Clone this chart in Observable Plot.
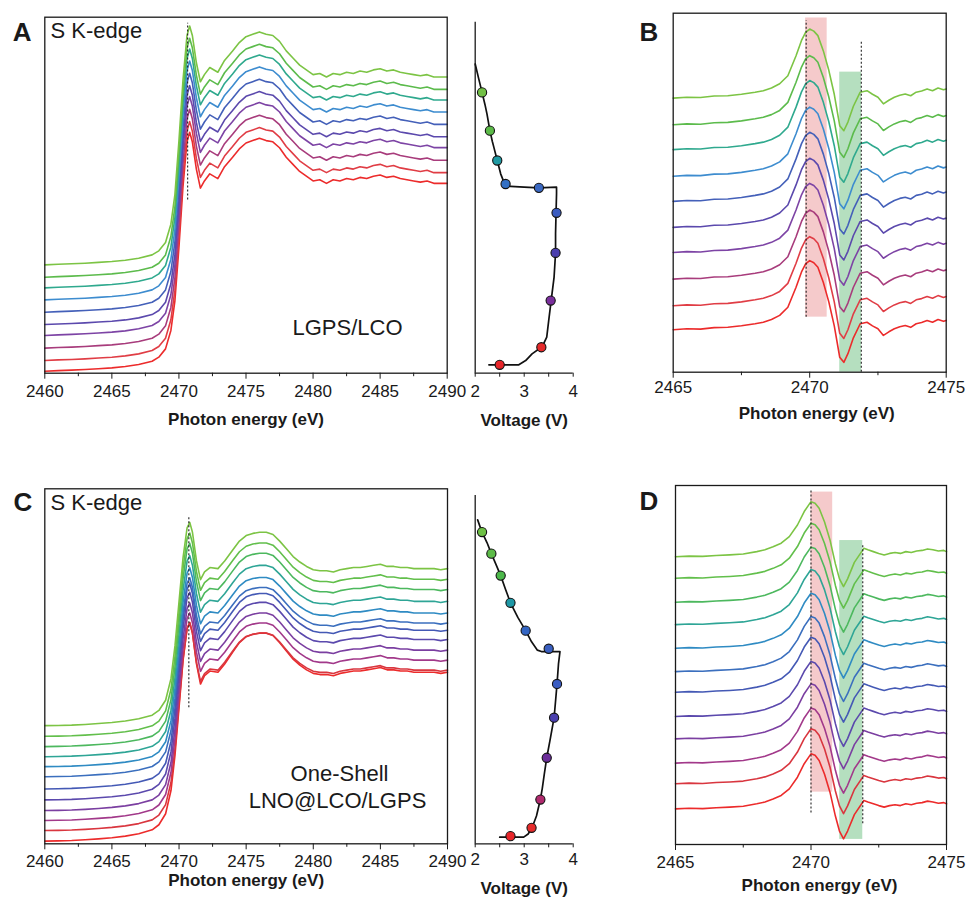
<!DOCTYPE html>
<html><head><meta charset="utf-8">
<script src="https://cdn.jsdelivr.net/npm/d3@7"></script>
<script src="https://cdn.jsdelivr.net/npm/@observablehq/plot@0.6"></script>
<style>
html,body{margin:0;padding:0;background:#fff;}
#fig{position:relative;width:968px;height:899px;overflow:hidden;background:#fff;font-family:"Liberation Sans",Arial,sans-serif;}
#fig > div{position:absolute;}
#fig svg{overflow:visible;background:none;}
</style></head><body><div id="fig"></div>
<script>
// ---------- DATA ----------
// S K-edge XANES energy grid (eV) for panels A and C
const energyK = [2460,2461,2462,2463,2464,2465,2466,2467,2468,2468.5,2469,2469.4,2469.7,2470,2470.3,2470.6,2470.8,2471,2471.3,2471.6,2471.9,2472.3,2472.9,2473.4,2474,2474.5,2475,2475.5,2476,2476.5,2477,2477.5,2478,2478.5,2479,2479.5,2480,2480.5,2481,2481.5,2482,2482.5,2483,2483.5,2484,2484.5,2485,2485.5,2486,2486.5,2487,2487.5,2488,2488.5,2489,2489.5,2490];
// Panel A: lowest (red) spectrum, normalized absorption
const muA = [0.017,0.022,0.026,0.031,0.038,0.045,0.056,0.073,0.101,0.135,0.205,0.36,0.61,1.06,1.57,1.95,2.03,1.95,1.72,1.56,1.62,1.68,1.64,1.74,1.82,1.89,1.94,1.96,1.98,1.96,1.95,1.90,1.82,1.76,1.70,1.66,1.62,1.63,1.60,1.63,1.62,1.64,1.63,1.65,1.64,1.66,1.67,1.65,1.66,1.64,1.63,1.62,1.61,1.62,1.60,1.60,1.60];
const offsetsA = [0.896,0.792,0.702,0.601,0.497,0.393,0.301,0.194,0.090,0];
const colorsA = ["#7cc444","#5cbb4c","#2fa98e","#3d8ccf","#4460b9","#5b49ad","#7d44a5","#a83c7c","#e03d45","#ec2b2b"];
const dashA = [{x:2470.65, y1:1.46, y2:2.95}];

// Panel C: lowest (red) spectrum
const muC = [0.023,0.025,0.028,0.034,0.042,0.051,0.065,0.085,0.118,0.161,0.254,0.45,0.75,1.15,1.55,1.82,1.87,1.78,1.52,1.35,1.42,1.46,1.45,1.52,1.62,1.70,1.75,1.77,1.78,1.78,1.76,1.70,1.63,1.56,1.51,1.47,1.44,1.43,1.43,1.42,1.44,1.45,1.46,1.46,1.47,1.48,1.49,1.47,1.47,1.46,1.46,1.45,1.45,1.45,1.45,1.44,1.45];
const offsetsC = [0.977,0.887,0.800,0.715,0.631,0.546,0.442,0.349,0.259,0.175,0.090,0];
const edgeScaleC = [0.93,0.93,0.93,0.92,0.91,0.91,0.94,0.95,0.95,0.95,0.95,1.0];
const colorsC = ["#7cc444","#62bf4b","#4cb85e","#2ea596","#2f8bc3","#3b6fbe","#4459b5","#5b49ad","#7b3fa1","#a2398a","#d9363f","#ec2b2b"];
const dashC = [{x:2470.73, y1:1.15, y2:2.76}];

// Panel B (zoom of edge), lowest spectrum
const energyB = [2465,2465.5,2466,2466.5,2467,2467.5,2468,2468.3,2468.6,2468.9,2469.2,2469.5,2469.7,2469.85,2470,2470.15,2470.3,2470.5,2470.7,2470.9,2471.1,2471.25,2471.4,2471.6,2471.85,2472.1,2472.3,2472.5,2472.7,2472.9,2473.1,2473.3,2473.5,2473.7,2473.9,2474.1,2474.3,2474.5,2474.7,2474.9,2475];
const muB = [1.42,1.45,1.44,1.49,1.50,1.55,1.62,1.67,1.76,1.90,2.17,2.84,3.35,3.62,3.73,3.66,3.51,3.00,2.35,1.55,0.50,0.33,0.62,1.15,1.62,1.67,1.55,1.45,1.23,1.35,1.45,1.52,1.56,1.50,1.62,1.66,1.73,1.67,1.76,1.70,1.73];
const offsetsB = [7.74,6.85,6.02,5.13,4.29,3.42,2.58,1.69,0.80,0];
const bandsB = [{x1:2469.85,x2:2470.64,y1:1.84,y2:11.84,fill:"#e8898b"},{x1:2471.1,x2:2471.9,y1:0,y2:10.03,fill:"#5cb870"}];
const dashB = [{x:2469.87,y1:1.84,y2:11.75},{x:2471.89,y1:0,y2:11.09}];

// Panel D, lowest spectrum
const energyD = [2465,2465.5,2466,2466.5,2467,2467.5,2468,2468.3,2468.6,2468.9,2469.2,2469.5,2469.75,2470,2470.15,2470.3,2470.5,2470.7,2470.9,2471.05,2471.2,2471.35,2471.6,2471.95,2472.1,2472.3,2472.5,2472.7,2472.9,2473.1,2473.3,2473.5,2473.7,2473.9,2474.1,2474.3,2474.5,2474.7,2474.9,2475];
const muD = [1.19,1.21,1.20,1.23,1.25,1.28,1.36,1.42,1.52,1.64,1.86,2.25,2.70,3.03,2.98,2.81,2.35,1.75,0.95,0.45,0.19,0.45,1.00,1.47,1.42,1.36,1.30,1.25,1.30,1.33,1.30,1.36,1.33,1.38,1.40,1.45,1.42,1.38,1.40,1.36];
const offsetsD = [8.43,7.71,6.91,6.16,5.37,4.59,3.90,3.09,2.34,1.53,0.84,0];
const bandsD = [{x1:2470.0,x2:2470.8,y1:1.75,y2:11.78,fill:"#e8898b"},{x1:2471.06,x2:2471.91,y1:0.17,y2:10.16,fill:"#5cb870"}];
const dashD = [{x:2470.0,y1:1.05,y2:11.83},{x:2471.91,y1:0.69,y2:10.05}];

// Voltage profiles (V vs. normalized time, top = start)
const voltA_V = [2.00,2.07,2.14,2.20,2.24,2.30,2.35,2.38,2.45,2.52,2.57,2.62,2.72,3.00,3.30,3.66,3.66,3.65,3.64,3.64,3.61,3.55,3.50,3.46,3.40,3.35,3.16,3.03,2.89,2.50,2.28];
const voltA_t = [0.881,0.84,0.80,0.765,0.739,0.691,0.66,0.644,0.606,0.568,0.55,0.539,0.532,0.530,0.528,0.530,0.511,0.457,0.397,0.343,0.274,0.207,0.150,0.103,0.085,0.074,0.055,0.036,0.024,0.024,0.024];
const dotA_V = [2.14,2.30,2.45,2.62,3.30,3.66,3.64,3.54,3.35,2.50];
const dotA_t = [0.80,0.691,0.606,0.539,0.528,0.457,0.343,0.207,0.074,0.024];
const dotColorsA = ["#72c045","#5cba48","#1f9aa3","#3370c4","#3a68c2","#3b5cc0","#4b3fae","#7a2f9c","#e52a2b","#e8262a"];

const voltC_V = [2.05,2.10,2.14,2.24,2.33,2.43,2.52,2.62,2.72,2.87,3.03,3.15,3.27,3.35,3.50,3.73,3.70,3.67,3.64,3.61,3.53,3.46,3.41,3.37,3.33,3.25,3.16,3.08,2.99,2.72,2.50];
const voltC_t = [0.930,0.91,0.895,0.865,0.833,0.80,0.770,0.73,0.692,0.65,0.612,0.58,0.556,0.552,0.552,0.552,0.517,0.459,0.41,0.362,0.30,0.247,0.20,0.16,0.127,0.08,0.046,0.028,0.019,0.019,0.019];
const dotC_V = [2.14,2.33,2.52,2.72,3.03,3.50,3.67,3.61,3.46,3.33,3.15,2.72];
const dotC_t = [0.895,0.833,0.770,0.692,0.612,0.560,0.459,0.362,0.247,0.127,0.046,0.022];
const dotColorsC = ["#6dc044","#5cbb48","#4cb84a","#1e98a6","#3466c4","#3a5fc0","#3a5cc2","#4a3fae","#6c2e9a","#b02a6e","#e52b2b","#e8262a"];

// Axis ticks and labels
const ticksK = [2460,2465,2470,2475,2480,2485,2490];
const minorK = [2462.5,2467.5,2472.5,2477.5,2482.5,2487.5];
const ticksZ = [2465,2470,2475];
const minorZ = [2467.5,2472.5];
const ticksV = [2,3,4];
const minorV = [2.5,3.5];
const xTitleE = "Photon energy (eV)";
const xTitleV = "Voltage (V)";
const edgeLabel = "S K-edge";
const sampleA = ["LGPS/LCO"];
const sampleC = ["One-Shell","LNO@LCO/LGPS"];
const panelLetters = ["A","B","C","D"];

// ---------- DRAWING ----------
const FONT = '"Liberation Sans", Arial, Helvetica, sans-serif';
const INK = "#1a1a1a";
const fig = document.getElementById("fig");

function place(el, left, top, w, h) {
  const d = document.createElement("div");
  d.style.left = left + "px"; d.style.top = top + "px";
  d.style.width = w + "px"; d.style.height = h + "px";
  d.appendChild(el); fig.appendChild(d);
}

function stackRows(energy, mu, offsets, scales, colors) {
  const rows = [];
  for (let i = offsets.length - 1; i >= 0; i--) {
    const s = scales ? scales[i] : 1;
    energy.forEach((e, j) => rows.push({e, a: offsets[i] + s * mu[j], k: i, c: colors[i]}));
  }
  return rows;
}

function label(txt, anchor, dx, dy, opts = {}) {
  return Plot.text([txt], {frameAnchor: anchor, dx, dy, lineAnchor: "bottom",
    textAnchor: opts.textAnchor || "start", fontSize: opts.size || 22,
    fontWeight: opts.weight || "normal", fill: INK});
}

function spectrumPlot(c) {
  const marks = [];
  if (c.bands) marks.push(Plot.rect(c.bands, {x1:"x1", x2:"x2", y1:"y1", y2:"y2", fill:"fill", fillOpacity:0.45}));
  marks.push(Plot.line(c.rows, {x:"e", y:"a", z:"k", stroke:"c", strokeWidth:1.6}));
  marks.push(Plot.ruleX(c.dashes, {x:"x", y1:"y1", y2:"y2", stroke:"#222", strokeWidth:1.1, strokeDasharray:"2,2"}));
  marks.push(Plot.frame({stroke:INK, strokeWidth:1.3}));
  marks.push(Plot.axisX({ticks:c.ticks, tickSize:6, tickPadding:c.pad, tickFormat:d => String(d), label:null, fontSize:17, stroke:INK, fill:INK}));
  marks.push(Plot.axisX({ticks:c.minor, tickSize:3.5, tickFormat:() => "", label:null, stroke:INK}));
  marks.push(...c.texts);
  return Plot.plot({
    width:c.w, height:c.h,
    marginLeft:c.ml, marginRight:c.mr, marginTop:c.mt, marginBottom:c.mb,
    x:{domain:c.xd}, y:{domain:c.yd, axis:null},
    color:{type:"identity"},
    style:{fontFamily:FONT, fontSize:"17px", background:"none", overflow:"visible", color:INK},
    marks
  });
}

function voltPlot(c) {
  const curve = c.V.map((v, i) => ({v, t: c.T[i]}));
  const dots = c.dV.map((v, i) => ({v, t: c.dT[i], c: c.dc[i]}));
  return Plot.plot({
    width:c.w, height:c.h,
    marginLeft:c.ml, marginRight:c.mr, marginTop:c.mt, marginBottom:c.mb,
    x:{domain:[2,4]}, y:{domain:[0,1], axis:null},
    color:{type:"identity"},
    style:{fontFamily:FONT, fontSize:"17px", background:"none", overflow:"visible", color:INK},
    marks:[
      Plot.ruleX([2], {stroke:INK, strokeWidth:1.3}),
      Plot.ruleY([0], {stroke:INK, strokeWidth:1.3}),
      Plot.line(curve, {x:"v", y:"t", stroke:"#111", strokeWidth:1.7}),
      Plot.dot(dots, {x:"v", y:"t", r:4.6, fill:"c", stroke:"#111", strokeWidth:1.1}),
      Plot.axisX({ticks:ticksV, tickSize:4, tickPadding:c.pad, tickFormat:d => String(d), label:null, fontSize:17, stroke:INK, fill:INK}),
      Plot.axisX({ticks:minorV, tickSize:4, tickFormat:() => "", label:null, stroke:INK}),
      label(xTitleV, "bottom", 0, c.titleDy, {textAnchor:"middle", size:17, weight:"bold"})
    ]
  });
}

// Panel A
place(spectrumPlot({
  w:460, h:440, ml:44.3, mr:13.3, mt:16.7, mb:67.3,
  xd:[2460,2490], yd:[0,3.0], pad:5.7,
  rows: stackRows(energyK, muA, offsetsA, null, colorsA),
  dashes: dashA, ticks: ticksK, minor: minorK,
  texts:[
    label(panelLetters[0], "top-left", -32, 23.3, {size:26, weight:"bold"}),
    label(edgeLabel, "top-left", 5.7, 21, {size:22}),
    label(sampleA[0], "top-left", 302.7, 317.3, {size:22, textAnchor:"middle"}),
    label(xTitleE, "bottom", 0, 51.3, {size:17, weight:"bold", textAnchor:"middle"})
  ]
}), 0, 0, 460, 440);

// Voltage A
place(voltPlot({
  w:160, h:440, ml:34.7, mr:27.3, mt:21.7, mb:67.3, pad:8,
  V:voltA_V, T:voltA_t, dV:dotA_V, dT:dotA_t, dc:dotColorsA, titleDy:52.3
}), 440, 0, 160, 440);

// Panel B
place(spectrumPlot({
  w:338, h:440, ml:42.7, mr:22.3, mt:12.7, mb:68.3,
  xd:[2465,2475], yd:[0,12], pad:2.7,
  rows: stackRows(energyB, muB, offsetsB, null, colorsA),
  bands: bandsB, dashes: dashB, ticks: ticksZ, minor: minorZ,
  texts:[
    label(panelLetters[1], "top-left", -33.7, 27.3, {size:26, weight:"bold"}),
    label(xTitleE, "bottom", 7, 46.3, {size:17, weight:"bold", textAnchor:"middle"})
  ]
}), 630, 0, 338, 440);

// Panel C
place(spectrumPlot({
  w:460, h:439, ml:44.3, mr:13, mt:28.3, mb:55.7,
  xd:[2460,2490], yd:[0,3.0], pad:5.0,
  rows: stackRows(energyK, muC, offsetsC, edgeScaleC, colorsC),
  dashes: dashC, ticks: ticksK, minor: minorK,
  texts:[
    label(panelLetters[2], "top-left", -31.3, 22.2, {size:26, weight:"bold"}),
    label(edgeLabel, "top-left", 5.7, 21, {size:22}),
    label(sampleC[0], "top-left", 294.7, 291.7, {size:22, textAnchor:"middle"}),
    label(sampleC[1], "top-left", 292.7, 318.7, {size:22, textAnchor:"middle"}),
    label(xTitleE, "bottom", 0, 42.5, {size:17, weight:"bold", textAnchor:"middle"})
  ]
}), 0, 460, 460, 439);

// Voltage C
place(voltPlot({
  w:160, h:439, ml:34.7, mr:27.3, mt:35, mb:55.7, pad:5,
  V:voltC_V, T:voltC_t, dV:dotC_V, dT:dotC_t, dc:dotColorsC, titleDy:50
}), 440, 460, 160, 439);

// Panel D
place(spectrumPlot({
  w:338, h:439, ml:45, mr:22, mt:25, mb:55,
  xd:[2465,2475], yd:[0,12], pad:5.0,
  rows: stackRows(energyD, muD, offsetsD, null, colorsC),
  bands: bandsD, dashes: dashD, ticks: ticksZ, minor: minorZ,
  texts:[
    label(panelLetters[3], "top-left", -36, 24, {size:26, weight:"bold"}),
    label(xTitleE, "bottom", 8.5, 46, {size:17, weight:"bold", textAnchor:"middle"})
  ]
}), 630, 460, 338, 439);
</script>
</body></html>
